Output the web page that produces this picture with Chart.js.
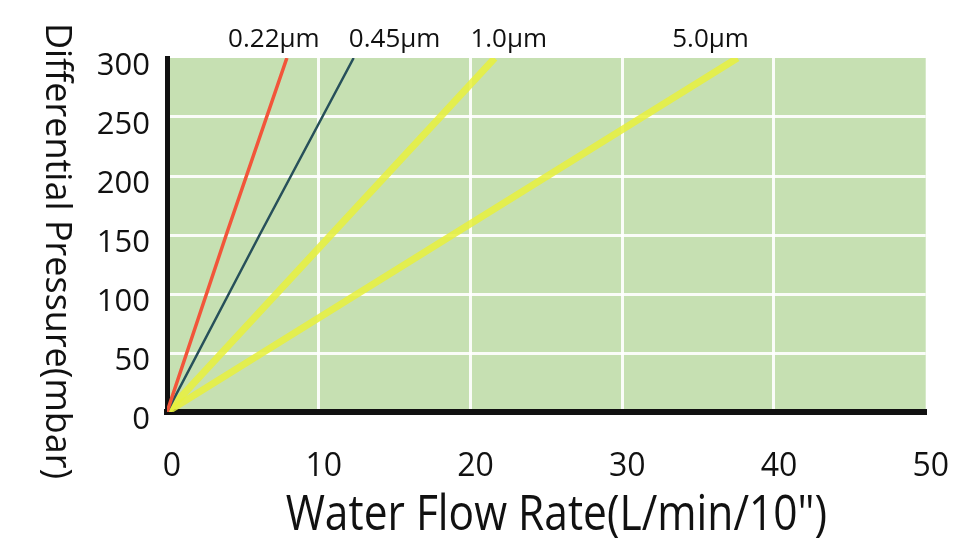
<!DOCTYPE html>
<html>
<head>
<meta charset="utf-8">
<script src="https://cdn.jsdelivr.net/npm/chart.js@4.4.0/dist/chart.umd.min.js"></script>
<style>
  html, body { margin: 0; padding: 0; background: #fff; }
</style>
</head>
<body>
<canvas id="myChart" width="980" height="560"></canvas>
<script>

// 데이터
const poreSizes = ['0.22µm', '0.45µm', '1.0µm', '5.0µm'];
const flow022 = [0, 3.9, 7.9];
const flow045 = [0, 6.1, 12.3];
const flow10 = [0, 10.8, 21.6];
const flow50 = [0, 18.8, 37.6];
const pressure = [0, 150, 300];
const xTicks = [0, 10, 20, 30, 40, 50];
const yTicks = [0, 50, 100, 150, 200, 250, 300];

const flows = [flow022, flow045, flow10, flow50];
const lineColors = ['#f2553a', '#27505a', 'rgba(232,240,60,0.85)', 'rgba(232,240,60,0.85)'];
const lineWidths = [3.5, 2.5, 7, 7];
const labelShift = [-13, 41, 14, -27];

const ink = '#111';
const gridWhite = 'rgba(255,255,255,0.9)';

// 배경 + 라벨
const decorPlugin = {
  id: 'decor',
  beforeDraw(chart) {
    const { ctx, chartArea: a } = chart;
    ctx.save();
    ctx.fillStyle = '#c6e0b2';
    ctx.fillRect(a.left, a.top, a.right - a.left, a.bottom - a.top);
    ctx.restore();
  },
  afterDraw(chart) {
    const { ctx, chartArea: a } = chart;
    const xs = chart.scales.x;
    ctx.save();
    ctx.fillStyle = ink;
    ctx.font = '26px "Open Sans"';
    ctx.textAlign = 'center';
    ctx.textBaseline = 'middle';
    poreSizes.forEach((name, i) => {
      const f = flows[i];
      ctx.fillText(name, xs.getPixelForValue(f[f.length - 1]) + labelShift[i], 40);
    });
    ctx.restore();

    // x축 제목 (좁은 글꼴 느낌)
    ctx.save();
    ctx.fillStyle = ink;
    ctx.textAlign = 'center';
    ctx.textBaseline = 'alphabetic';
    ctx.translate((a.left + a.right) / 2 + 10, 530);
    ctx.scale(0.85, 1);
    ctx.font = '50px "Open Sans"';
    ctx.fillText('Water Flow Rate(L/min/10")', 0, 0);
    ctx.restore();

    // y축 제목 (위에서 아래로)
    ctx.save();
    ctx.fillStyle = ink;
    ctx.textAlign = 'center';
    ctx.textBaseline = 'middle';
    ctx.translate(56, 251);
    ctx.rotate(Math.PI / 2);
    ctx.font = '36px "Open Sans"';
    ctx.fillText('Differential Pressure(mbar)', 0, 0);
    ctx.restore();
  }
};

document.addEventListener('DOMContentLoaded', function () {
  const ctx = document.getElementById('myChart').getContext('2d');

  const datasets = poreSizes.map((name, i) => ({
    label: name,
    data: flows[i].map((x, j) => ({ x: x, y: pressure[j] })),
    borderColor: lineColors[i],
    borderWidth: lineWidths[i],
    pointRadius: 0,
    tension: 0,
    clip: 0
  }));

  const config = {
    type: 'line',
    data: { datasets: datasets },
    options: {
      responsive: false,
      animation: false,
      layout: { padding: { top: 58, right: 38, left: 0, bottom: 0 } },
      plugins: {
        legend: { display: false },
        tooltip: { enabled: false }
      },
      scales: {
        x: {
          type: 'linear',
          min: xTicks[0],
          max: xTicks[xTicks.length - 1],
          afterBuildTicks: (s) => { s.ticks = xTicks.map(v => ({ value: v })); },
          afterFit: (s) => { s.height = 148; },
          ticks: {
            color: ink,
            font: { family: 'Open Sans', size: 32 },
            padding: 36,
            labelOffset: 5,
            maxRotation: 0
          },
          grid: {
            drawTicks: false,
            lineWidth: 3,
            color: (c) => (c.tick && (c.tick.value === 0 || c.tick.value === 50)) ? 'rgba(0,0,0,0)' : gridWhite
          },
          border: { color: ink, width: 6 }
        },
        y: {
          min: yTicks[0],
          max: yTicks[yTicks.length - 1],
          afterBuildTicks: (s) => { s.ticks = yTicks.map(v => ({ value: v })); },
          afterFit: (s) => { s.width = 167; },
          ticks: {
            color: ink,
            font: { family: 'Open Sans', size: 31 },
            padding: 17,
            labelOffset: 8
          },
          grid: {
            drawTicks: false,
            lineWidth: 3,
            color: (c) => (c.tick && (c.tick.value === 0 || c.tick.value === 300)) ? 'rgba(0,0,0,0)' : gridWhite
          },
          border: { color: ink, width: 5 }
        }
      }
    },
    plugins: [decorPlugin]
  };

  new Chart(ctx, config);
});

</script>
</body>
</html>
